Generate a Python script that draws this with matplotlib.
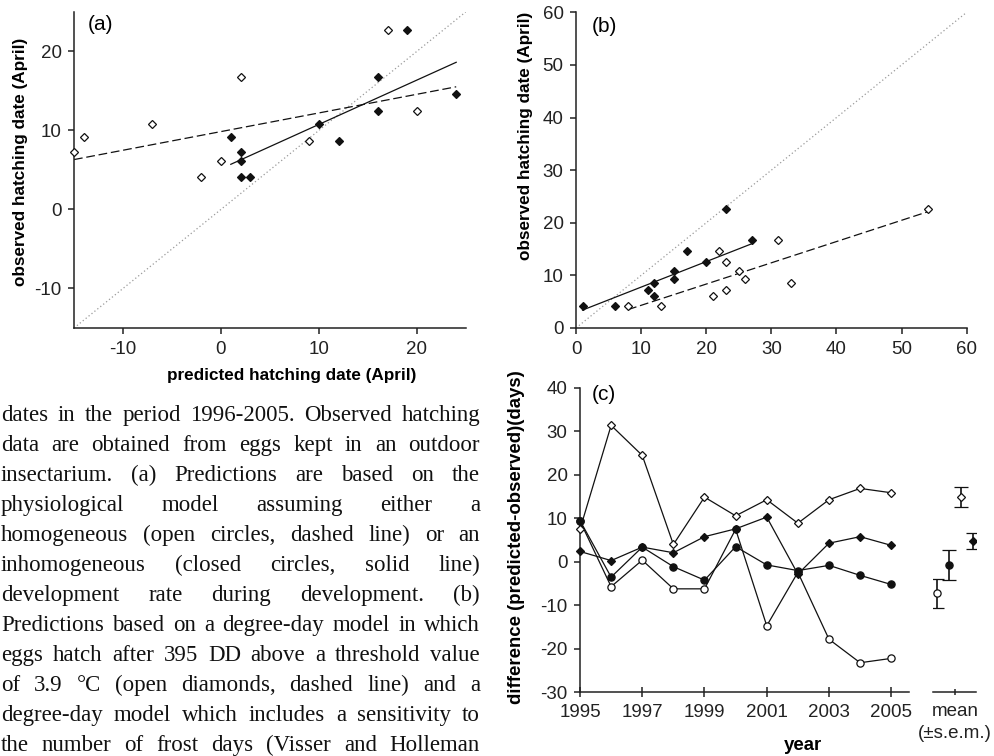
import numpy as np
import matplotlib
matplotlib.use("Agg")
import matplotlib.pyplot as plt

W, H = 994, 756

# panel (a): physiological model, predicted vs observed (April)
a_open_pred = [-15, -14, -7, -2, 0, 2, 9, 17, 20]
a_open_obs = [7.2, 9.2, 10.8, 4.1, 6.1, 16.8, 8.6, 22.7, 12.5]
a_fill_pred = [1, 2, 2, 2, 3, 10, 12, 16, 16, 19, 24]
a_fill_obs = [9.2, 7.2, 6.1, 4.1, 4.1, 10.8, 8.6, 16.8, 12.5, 22.7, 14.6]
# fitted lines: (intercept, slope, x from, x to)
a_fit_open = (9.84, 0.236, -15, 24)
a_fit_fill = (5.14, 0.561, 1, 24)

# panel (b): degree-day models
b_open_pred = [8, 13, 21, 22, 23, 23, 25, 26, 31, 33, 54]
b_open_obs = [4.1, 4.1, 6.15, 14.6, 12.5, 7.3, 10.8, 9.3, 16.8, 8.6, 22.7]
b_fill_pred = [1, 6, 11, 12, 12, 15, 15, 17, 20, 23, 27]
b_fill_obs = [4.1, 4.1, 7.3, 8.6, 6.15, 10.9, 9.3, 14.6, 12.5, 22.7, 16.8]
b_fit_open = (0.27, 0.404, 8, 54)
b_fit_fill = (2.92, 0.485, 1, 27)

# panel (c): difference predicted - observed per year
years = list(range(1995, 2006))
c_open_circ = [9.4, -5.7, 0.4, -6.2, -6.2, 7.5, -14.7, -2.4, -17.8, -23.2, -22.2]
c_fill_circ = [9.5, -3.5, 3.4, -1.1, -4.2, 3.5, -0.7, -2.0, -0.8, -3.1, -5.2]
c_open_diam = [7.5, 31.4, 24.5, 4.0, 14.9, 10.6, 14.3, 8.9, 14.3, 16.9, 15.9]
c_fill_diam = [2.4, 0.3, 3.4, 2.1, 5.8, 7.6, 10.3, -2.8, 4.3, 5.8, 3.8]
# means (+- s.e.m.) in order: open circle, filled circle, open diamond, filled diamond
c_mean = [-7.2, -0.7, 15.0, 4.9]
c_sem = [3.3, 3.45, 2.3, 1.85]

caption = [
    "dates in the period 1996-2005. Observed hatching",
    "data are obtained from eggs kept in an outdoor",
    "insectarium. (a) Predictions are based on the",
    "physiological model assuming either a",
    "homogeneous (open circles, dashed line) or an",
    "inhomogeneous (closed circles, solid line)",
    "development rate during development. (b)",
    "Predictions based on a degree-day model in which",
    "eggs hatch after 395 DD above a threshold value",
    "of 3.9 °C (open diamonds, dashed line) and a",
    "degree-day model which includes a sensitivity to",
    "the number of frost days (Visser and Holleman",
]

plt.rcParams["font.family"] = ["Liberation Sans", "DejaVu Sans"]
plt.rcParams["axes.unicode_minus"] = False

TICK = 13.5
LAB = 12.3
MS = 4.3
LW = 0.9


def style(ax):
    for s in ("top", "right"):
        ax.spines[s].set_visible(False)
    for s in ("left", "bottom"):
        ax.spines[s].set_linewidth(1.1)
        ax.spines[s].set_color("#222222")
    ax.tick_params(direction="out", length=4, width=1.1, labelsize=TICK,
                   pad=5, color="#222222", labelcolor="#222222")


def fit_line(ax, fit, ls):
    b0, b1, x0, x1 = fit
    xs = np.array([x0, x1])
    if ls == "--":
        ax.plot(xs, b0 + b1 * xs, color="#111111", lw=LW, ls="--", dashes=(7, 3))
    else:
        ax.plot(xs, b0 + b1 * xs, color="#111111", lw=LW, ls="-")


def open_pts(ax, x, y, m="D", ms=MS):
    ax.plot(x, y, ls="none", marker=m, ms=ms, mfc="white", mec="#111111",
            mew=0.9, clip_on=False, zorder=3)


def fill_pts(ax, x, y, m="D", ms=MS):
    ax.plot(x, y, ls="none", marker=m, ms=ms, mfc="#111111", mec="#111111",
            mew=0.9, clip_on=False, zorder=4)


fig = plt.figure(figsize=(W / 100, H / 100), dpi=100)

# ---- (a)
ax_a = fig.add_axes([74 / W, 1 - 328 / H, 392 / W, 316.3 / H])
style(ax_a)
ax_a.set_xlim(-15, 25)
ax_a.set_ylim(-15, 25)
ax_a.set_xticks([-10, 0, 10, 20])
ax_a.set_yticks([-10, 0, 10, 20])
ax_a.axline((0, 0), slope=1, color="#9a9a9a", lw=0.9, ls=(0, (1, 2)))
fit_line(ax_a, a_fit_open, "--")
fit_line(ax_a, a_fit_fill, "-")
open_pts(ax_a, a_open_pred, a_open_obs)
fill_pts(ax_a, a_fill_pred, a_fill_obs)
ax_a.text(0.036, 0.958, "(a)", transform=ax_a.transAxes, fontsize=15, va="center")
ax_a.set_ylabel("observed hatching date (April)", fontsize=LAB, fontweight="bold")
ax_a.yaxis.set_label_coords(-0.117, 0.525)
ax_a.set_xlabel("predicted hatching date (April)", fontsize=LAB, fontweight="bold")
ax_a.xaxis.set_label_coords(0.556, -0.126)

# ---- (b)
ax_b = fig.add_axes([576 / W, 1 - 328 / H, 390.7 / W, 315.7 / H])
style(ax_b)
ax_b.set_xlim(0, 60)
ax_b.set_ylim(0, 60)
ax_b.set_xticks(range(0, 61, 10))
ax_b.set_yticks(range(0, 61, 10))
ax_b.axline((0, 0), slope=1, color="#9a9a9a", lw=0.9, ls=(0, (1, 2)))
fit_line(ax_b, b_fit_open, "--")
fit_line(ax_b, b_fit_fill, "-")
open_pts(ax_b, b_open_pred, b_open_obs)
fill_pts(ax_b, b_fill_pred, b_fill_obs)
ax_b.text(0.04, 0.954, "(b)", transform=ax_b.transAxes, fontsize=15, va="center")
ax_b.set_ylabel("observed hatching date (April)", fontsize=LAB, fontweight="bold")
ax_b.yaxis.set_label_coords(-0.110, 0.608)

# ---- (c)
ax_c = fig.add_axes([580 / W, 1 - 692.3 / H, 329.3 / W, 304.3 / H])
style(ax_c)
ax_c.set_xlim(1995, 2005.58)
ax_c.set_ylim(-30, 40)
ax_c.set_xticks(range(1995, 2006, 2))
ax_c.set_yticks(range(-30, 41, 10))
ax_c.tick_params(axis="x", direction="inout", length=7)
for series in (c_open_circ, c_fill_circ, c_open_diam, c_fill_diam):
    ax_c.plot(years, series, color="#111111", lw=LW, zorder=2)
open_pts(ax_c, years, c_open_circ, m="o", ms=5.2)
fill_pts(ax_c, years, c_fill_circ, m="o", ms=5.2)
open_pts(ax_c, years, c_open_diam)
fill_pts(ax_c, years, c_fill_diam)
ax_c.text(0.036, 0.977, "(c)", transform=ax_c.transAxes, fontsize=15, va="center")
ax_c.set_ylabel("difference (predicted-observed)(days)", fontsize=13.4, fontweight="bold")
ax_c.yaxis.set_label_coords(-0.167, 0.51)
ax_c.set_xlabel("year", fontsize=13.4, fontweight="bold")
ax_c.xaxis.set_label_coords(0.677, -0.146)

# mean (+- s.e.m.) strip
ax_m = fig.add_axes([932.7 / W, 1 - 692.3 / H, 43.3 / W, 304.3 / H], sharey=ax_c)
style(ax_m)
ax_m.spines["left"].set_visible(False)
ax_m.set_xlim(-0.38, 3.22)
ax_m.set_xticks([1.5])
ax_m.set_xticklabels(["mean\n(±s.e.m.)"], linespacing=1.4)
ax_m.tick_params(axis="x", direction="inout", length=5)
ax_m.tick_params(axis="y", left=False, labelleft=False)
mean_marks = [("o", "white", 5.2), ("o", "#111111", 5.2), ("D", "white", MS), ("D", "#111111", MS)]
for i, (mk, fc, ms) in enumerate(mean_marks):
    ax_m.errorbar(i, c_mean[i], yerr=c_sem[i], fmt=mk, ms=ms, mfc=fc, mec="#111111",
                  mew=0.9, ecolor="#111111", elinewidth=1.2, capsize=5, capthick=1.2)

# ---- caption text (justified, serif)
renderer = fig.canvas.get_renderer()
x_left, x_right = 1, 480
for k, line in enumerate(caption):
    y_px = 421 + 30 * k
    words = line.split()
    texts = [fig.text(0, 1 - y_px / H, w, fontsize=16.5, family="Liberation Serif",
                      va="baseline", color="#111111") for w in words]
    widths = [t.get_window_extent(renderer).width for t in texts]
    gap = (x_right - x_left - sum(widths)) / (len(words) - 1)
    x = x_left
    for t, wd in zip(texts, widths):
        t.set_x(x / W)
        x += wd + gap

fig.savefig("out.png", dpi=100)
